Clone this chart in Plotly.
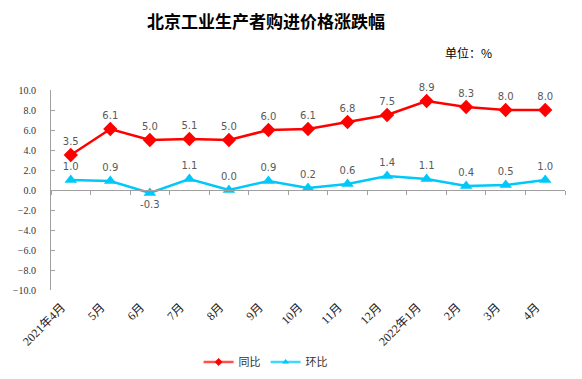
import plotly.graph_objects as go

months = ["2021年4月", "5月", "6月", "7月", "8月", "9月", "10月", "11月", "12月",
          "2022年1月", "2月", "3月", "4月"]
yoy = [3.5, 6.1, 5.0, 5.1, 5.0, 6.0, 6.1, 6.8, 7.5, 8.9, 8.3, 8.0, 8.0]
mom = [1.0, 0.9, -0.3, 1.1, 0.0, 0.9, 0.2, 0.6, 1.4, 1.1, 0.4, 0.5, 1.0]
y_ticks = [10, 8, 6, 4, 2, 0, -2, -4, -6, -8, -10]

red = "#FF0000"
blue = "#00C8F8"
label_font = dict(family="DejaVu Sans, Noto Sans CJK SC", size=10, color="#595959")

fig = go.Figure()
fig.add_trace(go.Scatter(
    x=months, y=yoy, name="同比", mode="lines+markers+text",
    line=dict(color=red, width=2.5),
    marker=dict(symbol="diamond", size=11, color=red),
    text=[f"{v:.1f}" for v in yoy], textposition="top center", cliponaxis=False,
    textfont=label_font, xaxis="x", yaxis="y", showlegend=False))
fig.add_trace(go.Scatter(
    x=months, y=mom, name="环比", mode="lines+markers+text",
    line=dict(color=blue, width=2.5),
    marker=dict(symbol="triangle-up", size=11, color=blue),
    text=[f"{v:.1f}" for v in mom], cliponaxis=False,
    textposition=["bottom center" if v < 0 else "top center" for v in mom],
    textfont=label_font, xaxis="x", yaxis="y", showlegend=False))
# legend entries with small symbols, as in the reference
fig.add_trace(go.Scatter(x=[None], y=[None], name="同比", mode="lines+markers",
                         line=dict(color="#FF5050", width=2.5),
                         marker=dict(symbol="diamond", size=6, color=red)))
fig.add_trace(go.Scatter(x=[None], y=[None], name="环比", mode="lines+markers",
                         line=dict(color="#40D8FF", width=2.5),
                         marker=dict(symbol="triangle-up", size=6, color=blue)))
# invisible trace to carry the bottom category labels
fig.add_trace(go.Scatter(x=months, y=[None] * len(months), xaxis="x2", yaxis="y",
                         showlegend=False, hoverinfo="skip", mode="lines"))

axis_font = dict(family="Liberation Serif, Noto Sans CJK SC", size=10, color="#333333")
xlab_font = dict(family="Liberation Serif, Noto Sans CJK SC", size=12, color="#222222")

fig.update_layout(
    width=574, height=371,
    paper_bgcolor="white", plot_bgcolor="white",
    margin=dict(l=43, r=17, t=82, b=89, autoexpand=False),
    title=dict(text="<b>北京工业生产者购进价格涨跌幅</b>", x=0.4495, xanchor="center",
               y=0.962, yanchor="middle",
               font=dict(family="Noto Sans CJK SC", size=17, color="#000000")),
    showlegend=True,
    legend=dict(orientation="h", x=0.4175, xanchor="center", y=-0.36, yanchor="middle",
                font=dict(family="Noto Sans CJK SC", size=11, color="#333333"),
                itemwidth=30),
    xaxis=dict(type="category", range=[-0.5, len(months) - 0.5],
               anchor="free", position=0.5, automargin=False,
               showline=True, linecolor="#A0A0A0", linewidth=1,
               ticks="outside", tickson="boundaries", ticklen=4, tickcolor="#A0A0A0",
               showticklabels=False, showgrid=False, zeroline=False),
    xaxis2=dict(type="category", range=[-0.5, len(months) - 0.5],
                overlaying="x", anchor="y", side="bottom", automargin=False,
                showline=False, showgrid=False, zeroline=False, ticks="",
                tickangle=-45, tickfont=xlab_font, ticklabelstandoff=7,
                ticklabelshift=-9),
    yaxis=dict(range=[-10, 10], tickvals=y_ticks, tickformat=".1f", automargin=False,
               showline=True, linecolor="#A0A0A0", linewidth=1,
               ticks="inside", ticklen=4, tickcolor="#A0A0A0", ticklabelstandoff=12,
               showgrid=False, zeroline=False, tickfont=axis_font),
    annotations=[dict(text="单位：%", xref="paper", yref="paper", x=0.862,
                      y=1.19, xanchor="right", yanchor="middle", showarrow=False,
                      font=dict(family="Noto Sans CJK SC", size=12, color="#000000"))],
)

fig.write_html("out.html")
